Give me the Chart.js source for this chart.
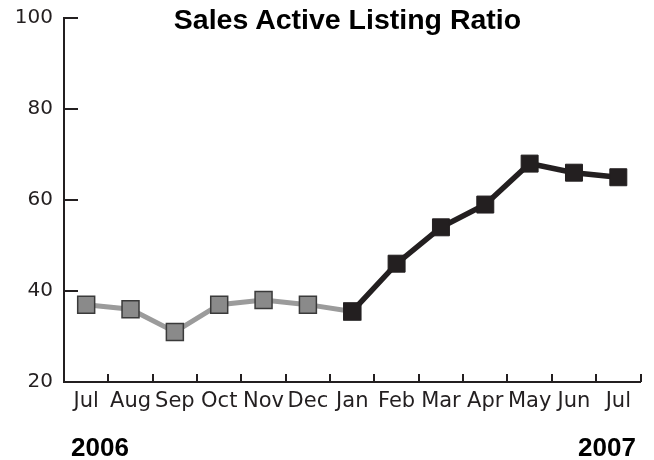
<!DOCTYPE html>
<html>
<head>
<meta charset="utf-8">
<script src="https://cdn.jsdelivr.net/npm/chart.js@4"></script>
<style>
    html, body { margin: 0; padding: 0; background: #fff; }
    #wrap { position: relative; width: 654px; height: 460px; }
    #chart { position: absolute; left: 0; top: 0; }
    .txt {
        position: absolute;
        font-family: "Liberation Sans", Arial, sans-serif;
        font-weight: bold;
        color: #000;
        white-space: nowrap;
        text-align: center;
    }
    #title { left: 0; width: 695px; top: 5px; font-size: 28.5px; line-height: 28px; }
    .year { width: 100px; top: 434px; font-size: 26px; line-height: 26px; }
    #y2006 { left: 50px; }
    #y2007 { left: 557px; }
</style>
</head>
<body>
<div id="wrap">
    <canvas id="chart" width="654" height="460"></canvas>
    <div id="title" class="txt">Sales Active Listing Ratio</div>
    <div id="y2006" class="txt year">2006</div>
    <div id="y2007" class="txt year">2007</div>
</div>
<script>
// Data
const months = ['Jul', 'Aug', 'Sep', 'Oct', 'Nov', 'Dec', 'Jan', 'Feb', 'Mar', 'Apr', 'May', 'Jun', 'Jul'];
const ratio2006 = [37, 36, 31, 37, 38, 37, 35.5, null, null, null, null, null, null];
const ratio2007 = [null, null, null, null, null, null, 35.5, 46, 54, 59, 68, 66, 65];
const yTicks = [20, 40, 60, 80, 100];

const AXIS = '#231f20';

// ticks pointing into the plot, like the original
const inwardTicks = {
    id: 'inwardTicks',
    beforeDatasetsDraw(chart) {
        const { ctx, chartArea } = chart;
        const x = chart.scales.x;
        const y = chart.scales.y;
        ctx.save();
        ctx.strokeStyle = AXIS;
        ctx.lineWidth = 2;
        ctx.beginPath();
        y.ticks.forEach(t => {
            const py = Math.round(y.getPixelForValue(t.value));
            ctx.moveTo(chartArea.left, py);
            ctx.lineTo(chartArea.left + 14, py);
        });
        for (let i = 0; i <= months.length; i++) {
            const px = Math.round(x.getPixelForValue(i - 0.5));
            ctx.moveTo(px, chartArea.bottom);
            ctx.lineTo(px, chartArea.bottom - 8);
        }
        ctx.stroke();
        ctx.restore();
    }
};

new Chart(document.getElementById('chart').getContext('2d'), {
    type: 'line',
    data: {
        labels: months,
        datasets: [
            {
                data: ratio2007,
                order: 0,
                borderColor: AXIS,
                borderWidth: 5.5,
                pointStyle: 'rect',
                pointRadius: 12,
                pointBackgroundColor: AXIS,
                pointBorderColor: AXIS,
                pointBorderWidth: 1,
                clip: false
            },
            {
                data: ratio2006,
                order: 1,
                borderColor: '#9b9b9b',
                borderWidth: 5,
                pointStyle: 'rect',
                pointRadius: 12,
                pointBackgroundColor: '#8a8a8a',
                pointBorderColor: '#3a3a3a',
                pointBorderWidth: 1.5,
                clip: false
            }
        ]
    },
    options: {
        responsive: false,
        animation: false,
        devicePixelRatio: 1,
        layout: { padding: { top: 18, right: 12, left: 0, bottom: 0 } },
        plugins: {
            legend: { display: false },
            tooltip: { enabled: false }
        },
        scales: {
            x: {
                offset: true,
                grid: { display: false, drawTicks: false },
                border: { color: AXIS, width: 2 },
                ticks: {
                    autoSkip: false,
                    maxRotation: 0,
                    padding: 7,
                    color: AXIS,
                    font: { family: 'DejaVu Sans', size: 21 }
                },
                afterFit(scale) {
                    scale.height = 78;
                    scale.paddingLeft = 0;
                    scale.paddingRight = 0;
                }
            },
            y: {
                min: 20,
                max: 100,
                grid: { display: false, drawTicks: false },
                border: { color: AXIS, width: 2 },
                afterBuildTicks(scale) { scale.ticks = yTicks.map(v => ({ value: v })); },
                ticks: {
                    padding: 11,
                    color: AXIS,
                    font: { family: 'DejaVu Sans', size: 20 }
                },
                afterFit(scale) {
                    scale.width = 64;
                    scale.paddingTop = 0;
                    scale.paddingBottom = 0;
                }
            }
        }
    },
    plugins: [inwardTicks]
});
</script>
</body>
</html>
